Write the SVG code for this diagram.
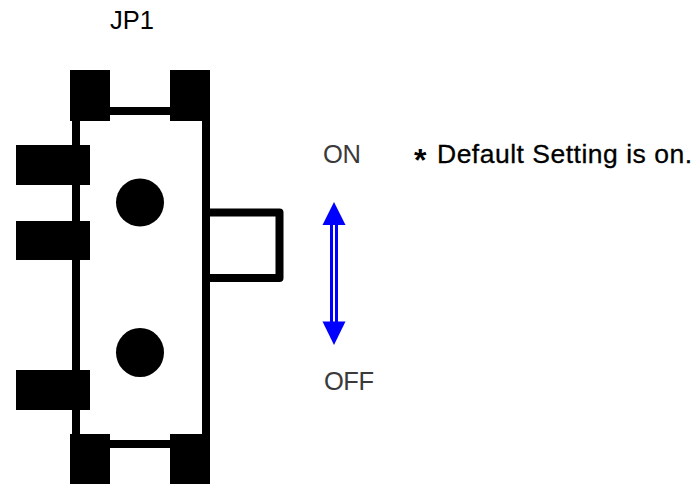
<svg xmlns="http://www.w3.org/2000/svg" width="698" height="486" viewBox="0 0 698 486">
<style>
.b{fill:#000}
.w{fill:none;stroke:#000;stroke-width:8}
.a{fill:#00f}
text{font-family:"Liberation Sans",Arial,sans-serif;font-size:25.500px}
.g{fill:#3a3a3a}
</style>
<rect width="698" height="486" fill="#fff"/>
<g id="switch-body">
<path class="w" d="M76 100V460M206 100V460M100 111H180M100 444H180"/>
<path class="w" stroke-linejoin="round" d="M206 212.500H279.500V278H206"/>
</g>
<g id="pads">
<rect class="b" x="70" y="70" width="40" height="51"/>
<rect class="b" x="170" y="70" width="40" height="51"/>
<rect class="b" x="70" y="434" width="40" height="50"/>
<rect class="b" x="170" y="434" width="40" height="50"/>
<rect class="b" x="16" y="145" width="74" height="40"/>
<rect class="b" x="16" y="221" width="74" height="39"/>
<rect class="b" x="16" y="370" width="74" height="40"/>
</g>
<g id="holes">
<ellipse class="b" cx="140" cy="202.500" rx="24" ry="24"/>
<ellipse class="b" cx="140" cy="352.500" rx="24" ry="24.500"/>
</g>
<g id="arrow">
<polygon class="a" points="334,202 345.500,225 322.500,225"/>
<polygon class="a" points="334,345 345.500,321.500 322.500,321.500"/>
<rect class="a" x="330" y="224" width="3" height="98"/>
<rect class="a" x="335" y="224" width="3" height="98"/>
</g>
<g id="labels">
<text x="110" y="29" textLength="44">JP1</text>
<text class="g" x="323" y="163" textLength="38">ON</text>
<text class="g" x="324" y="390" textLength="50">OFF</text>
<text x="414" y="171" font-weight="bold" style="font-size:32px">*</text>
<text x="437" y="163" style="font-size:26.500px" textLength="255" stroke="#000" stroke-width="0.3">Default Setting is on.</text>
</g>
</svg>
